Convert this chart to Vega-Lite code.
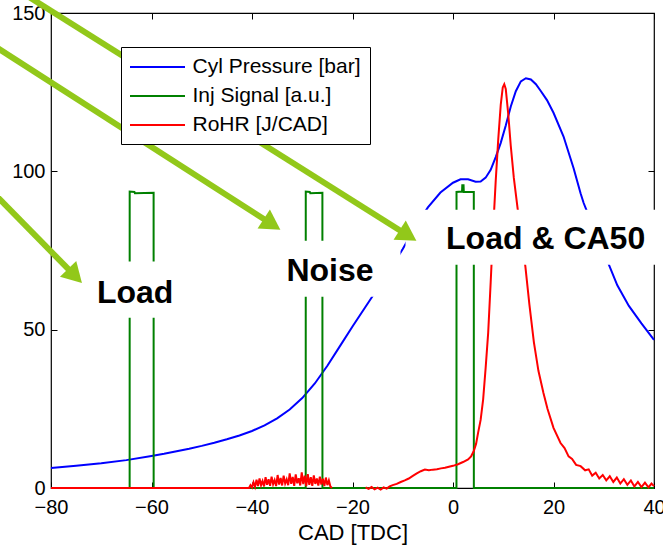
{
  "$schema": "https://vega.github.io/schema/vega-lite/v6.json",
  "width": 603,
  "height": 475,
  "autosize": {"type": "none"},
  "padding": {"left": 51, "top": 13, "right": 9, "bottom": 59},
  "background": "white",
  "config": {
    "view": {"stroke": "black", "strokeWidth": 1.2},
    "font": "Liberation Sans",
    "axis": {"labelFont": "Liberation Sans", "labelFontSize": 20, "labelColor": "black", "tickColor": "black", "tickWidth": 1, "domain": false, "grid": false, "tickSize": -6, "titleFont": "Liberation Sans", "titleFontSize": 22, "titleFontWeight": "normal", "titleColor": "black", "labelFlush": false, "labelOverlap": false}
  },
  "datasets": {
    "curves": [
      {"cad": -80, "val": 6.3, "series": "Cyl Pressure [bar]", "part": "a"},
      {"cad": -75, "val": 7.0, "series": "Cyl Pressure [bar]", "part": "a"},
      {"cad": -70, "val": 7.8, "series": "Cyl Pressure [bar]", "part": "a"},
      {"cad": -65, "val": 8.8, "series": "Cyl Pressure [bar]", "part": "a"},
      {"cad": -60, "val": 10.1, "series": "Cyl Pressure [bar]", "part": "a"},
      {"cad": -57.5, "val": 10.8, "series": "Cyl Pressure [bar]", "part": "a"},
      {"cad": -55, "val": 11.6, "series": "Cyl Pressure [bar]", "part": "a"},
      {"cad": -52.5, "val": 12.4, "series": "Cyl Pressure [bar]", "part": "a"},
      {"cad": -50, "val": 13.3, "series": "Cyl Pressure [bar]", "part": "a"},
      {"cad": -47.5, "val": 14.3, "series": "Cyl Pressure [bar]", "part": "a"},
      {"cad": -45, "val": 15.4, "series": "Cyl Pressure [bar]", "part": "a"},
      {"cad": -42.5, "val": 16.6, "series": "Cyl Pressure [bar]", "part": "a"},
      {"cad": -40, "val": 18.0, "series": "Cyl Pressure [bar]", "part": "a"},
      {"cad": -37.5, "val": 19.8, "series": "Cyl Pressure [bar]", "part": "a"},
      {"cad": -35, "val": 22.0, "series": "Cyl Pressure [bar]", "part": "a"},
      {"cad": -32.5, "val": 24.8, "series": "Cyl Pressure [bar]", "part": "a"},
      {"cad": -30, "val": 28.4, "series": "Cyl Pressure [bar]", "part": "a"},
      {"cad": -27.5, "val": 33.0, "series": "Cyl Pressure [bar]", "part": "a"},
      {"cad": -25, "val": 38.6, "series": "Cyl Pressure [bar]", "part": "a"},
      {"cad": -22.5, "val": 44.8, "series": "Cyl Pressure [bar]", "part": "a"},
      {"cad": -20, "val": 51.0, "series": "Cyl Pressure [bar]", "part": "a"},
      {"cad": -17.5, "val": 57.0, "series": "Cyl Pressure [bar]", "part": "a"},
      {"cad": -15, "val": 63.0, "series": "Cyl Pressure [bar]", "part": "a"},
      {"cad": -12.5, "val": 69.0, "series": "Cyl Pressure [bar]", "part": "a"},
      {"cad": -10, "val": 75.5, "series": "Cyl Pressure [bar]", "part": "a"},
      {"cad": -7.5, "val": 82.5, "series": "Cyl Pressure [bar]", "part": "a"},
      {"cad": -5, "val": 88.6, "series": "Cyl Pressure [bar]", "part": "a"},
      {"cad": -2.5, "val": 93.3, "series": "Cyl Pressure [bar]", "part": "a"},
      {"cad": 0, "val": 96.4, "series": "Cyl Pressure [bar]", "part": "a"},
      {"cad": 1.5, "val": 97.5, "series": "Cyl Pressure [bar]", "part": "a"},
      {"cad": 3, "val": 97.5, "series": "Cyl Pressure [bar]", "part": "a"},
      {"cad": 4.5, "val": 96.7, "series": "Cyl Pressure [bar]", "part": "a"},
      {"cad": 5.5, "val": 96.8, "series": "Cyl Pressure [bar]", "part": "a"},
      {"cad": 6.5, "val": 98.0, "series": "Cyl Pressure [bar]", "part": "a"},
      {"cad": 7.5, "val": 100.5, "series": "Cyl Pressure [bar]", "part": "a"},
      {"cad": 8.5, "val": 104.5, "series": "Cyl Pressure [bar]", "part": "a"},
      {"cad": 9.5, "val": 109.0, "series": "Cyl Pressure [bar]", "part": "a"},
      {"cad": 10.5, "val": 114.5, "series": "Cyl Pressure [bar]", "part": "a"},
      {"cad": 11.5, "val": 120.5, "series": "Cyl Pressure [bar]", "part": "a"},
      {"cad": 12.5, "val": 125.3, "series": "Cyl Pressure [bar]", "part": "a"},
      {"cad": 13.5, "val": 128.4, "series": "Cyl Pressure [bar]", "part": "a"},
      {"cad": 14.5, "val": 129.4, "series": "Cyl Pressure [bar]", "part": "a"},
      {"cad": 15.5, "val": 129.0, "series": "Cyl Pressure [bar]", "part": "a"},
      {"cad": 16.5, "val": 127.5, "series": "Cyl Pressure [bar]", "part": "a"},
      {"cad": 17.5, "val": 125.3, "series": "Cyl Pressure [bar]", "part": "a"},
      {"cad": 18.7, "val": 122.5, "series": "Cyl Pressure [bar]", "part": "a"},
      {"cad": 20, "val": 118.5, "series": "Cyl Pressure [bar]", "part": "a"},
      {"cad": 22, "val": 111.0, "series": "Cyl Pressure [bar]", "part": "a"},
      {"cad": 24, "val": 101.0, "series": "Cyl Pressure [bar]", "part": "a"},
      {"cad": 25.4, "val": 93.0, "series": "Cyl Pressure [bar]", "part": "a"},
      {"cad": 26, "val": 90.0, "series": "Cyl Pressure [bar]", "part": "a"},
      {"cad": 27, "val": 86.0, "series": "Cyl Pressure [bar]", "part": "a"},
      {"cad": 30, "val": 74.5, "series": "Cyl Pressure [bar]", "part": "a"},
      {"cad": 32.7, "val": 64.0, "series": "Cyl Pressure [bar]", "part": "a"},
      {"cad": 35, "val": 57.5, "series": "Cyl Pressure [bar]", "part": "a"},
      {"cad": 37.5, "val": 52.0, "series": "Cyl Pressure [bar]", "part": "a"},
      {"cad": 40, "val": 46.8, "series": "Cyl Pressure [bar]", "part": "a"},

      {"cad": -80, "val": 0, "series": "Inj Signal [a.u.]", "part": "a"},
      {"cad": -64.35, "val": 0, "series": "Inj Signal [a.u.]", "part": "a"},
      {"cad": -64.34, "val": 93.6, "series": "Inj Signal [a.u.]", "part": "a"},
      {"cad": -63.4, "val": 93.5, "series": "Inj Signal [a.u.]", "part": "a"},
      {"cad": -63.3, "val": 93.1, "series": "Inj Signal [a.u.]", "part": "a"},
      {"cad": -59.58, "val": 93.2, "series": "Inj Signal [a.u.]", "part": "a"},
      {"cad": -59.57, "val": 0, "series": "Inj Signal [a.u.]", "part": "a"},
      {"cad": -29.31, "val": 0, "series": "Inj Signal [a.u.]", "part": "a"},
      {"cad": -29.3, "val": 93.6, "series": "Inj Signal [a.u.]", "part": "a"},
      {"cad": -28.5, "val": 93.5, "series": "Inj Signal [a.u.]", "part": "a"},
      {"cad": -28.4, "val": 93.1, "series": "Inj Signal [a.u.]", "part": "a"},
      {"cad": -25.99, "val": 93.2, "series": "Inj Signal [a.u.]", "part": "a"},
      {"cad": -25.98, "val": 0, "series": "Inj Signal [a.u.]", "part": "a"},
      {"cad": 0.69, "val": 0, "series": "Inj Signal [a.u.]", "part": "a"},
      {"cad": 0.7, "val": 93.5, "series": "Inj Signal [a.u.]", "part": "a"},
      {"cad": 1.8, "val": 93.6, "series": "Inj Signal [a.u.]", "part": "a"},
      {"cad": 1.85, "val": 95.6, "series": "Inj Signal [a.u.]", "part": "a"},
      {"cad": 2.1, "val": 95.6, "series": "Inj Signal [a.u.]", "part": "a"},
      {"cad": 2.15, "val": 93.5, "series": "Inj Signal [a.u.]", "part": "a"},
      {"cad": 4.14, "val": 93.5, "series": "Inj Signal [a.u.]", "part": "a"},
      {"cad": 4.15, "val": 0, "series": "Inj Signal [a.u.]", "part": "a"},
      {"cad": 40, "val": 0, "series": "Inj Signal [a.u.]", "part": "a"},

      {"cad": -80, "val": 0, "series": "RoHR [J/CAD]", "part": "a"},
      {"cad": -40.6, "val": 0, "series": "RoHR [J/CAD]", "part": "a"},
      {"cad": -40.3, "val": 0.9, "series": "RoHR [J/CAD]", "part": "a"},
      {"cad": -40.0, "val": 0.2, "series": "RoHR [J/CAD]", "part": "a"},
      {"cad": -39.7, "val": 1.8, "series": "RoHR [J/CAD]", "part": "a"},
      {"cad": -39.4, "val": 0.4, "series": "RoHR [J/CAD]", "part": "a"},
      {"cad": -39.1, "val": 2.6, "series": "RoHR [J/CAD]", "part": "a"},
      {"cad": -38.8, "val": 0.6, "series": "RoHR [J/CAD]", "part": "a"},
      {"cad": -38.5, "val": 3.0, "series": "RoHR [J/CAD]", "part": "a"},
      {"cad": -38.2, "val": 0.9, "series": "RoHR [J/CAD]", "part": "a"},
      {"cad": -37.9, "val": 2.2, "series": "RoHR [J/CAD]", "part": "a"},
      {"cad": -37.6, "val": 0.5, "series": "RoHR [J/CAD]", "part": "a"},
      {"cad": -37.3, "val": 3.4, "series": "RoHR [J/CAD]", "part": "a"},
      {"cad": -37.0, "val": 1.0, "series": "RoHR [J/CAD]", "part": "a"},
      {"cad": -36.7, "val": 2.8, "series": "RoHR [J/CAD]", "part": "a"},
      {"cad": -36.4, "val": 0.7, "series": "RoHR [J/CAD]", "part": "a"},
      {"cad": -36.1, "val": 3.6, "series": "RoHR [J/CAD]", "part": "a"},
      {"cad": -35.8, "val": 1.2, "series": "RoHR [J/CAD]", "part": "a"},
      {"cad": -35.5, "val": 2.5, "series": "RoHR [J/CAD]", "part": "a"},
      {"cad": -35.2, "val": 0.6, "series": "RoHR [J/CAD]", "part": "a"},
      {"cad": -34.9, "val": 4.1, "series": "RoHR [J/CAD]", "part": "a"},
      {"cad": -34.6, "val": 1.1, "series": "RoHR [J/CAD]", "part": "a"},
      {"cad": -34.3, "val": 3.2, "series": "RoHR [J/CAD]", "part": "a"},
      {"cad": -34.0, "val": 0.8, "series": "RoHR [J/CAD]", "part": "a"},
      {"cad": -33.7, "val": 3.9, "series": "RoHR [J/CAD]", "part": "a"},
      {"cad": -33.4, "val": 1.4, "series": "RoHR [J/CAD]", "part": "a"},
      {"cad": -33.1, "val": 2.7, "series": "RoHR [J/CAD]", "part": "a"},
      {"cad": -32.8, "val": 0.9, "series": "RoHR [J/CAD]", "part": "a"},
      {"cad": -32.5, "val": 4.6, "series": "RoHR [J/CAD]", "part": "a"},
      {"cad": -32.2, "val": 1.3, "series": "RoHR [J/CAD]", "part": "a"},
      {"cad": -31.9, "val": 3.5, "series": "RoHR [J/CAD]", "part": "a"},
      {"cad": -31.6, "val": 0.7, "series": "RoHR [J/CAD]", "part": "a"},
      {"cad": -31.3, "val": 4.3, "series": "RoHR [J/CAD]", "part": "a"},
      {"cad": -31.0, "val": 1.5, "series": "RoHR [J/CAD]", "part": "a"},
      {"cad": -30.7, "val": 3.1, "series": "RoHR [J/CAD]", "part": "a"},
      {"cad": -30.4, "val": 0.8, "series": "RoHR [J/CAD]", "part": "a"},
      {"cad": -30.1, "val": 4.9, "series": "RoHR [J/CAD]", "part": "a"},
      {"cad": -29.8, "val": 1.2, "series": "RoHR [J/CAD]", "part": "a"},
      {"cad": -29.5, "val": 3.9, "series": "RoHR [J/CAD]", "part": "a"},
      {"cad": -29.2, "val": 0.6, "series": "RoHR [J/CAD]", "part": "a"},
      {"cad": -28.9, "val": 4.4, "series": "RoHR [J/CAD]", "part": "a"},
      {"cad": -28.6, "val": 1.0, "series": "RoHR [J/CAD]", "part": "a"},
      {"cad": -28.3, "val": 3.4, "series": "RoHR [J/CAD]", "part": "a"},
      {"cad": -28.0, "val": 0.7, "series": "RoHR [J/CAD]", "part": "a"},
      {"cad": -27.7, "val": 4.0, "series": "RoHR [J/CAD]", "part": "a"},
      {"cad": -27.4, "val": 1.3, "series": "RoHR [J/CAD]", "part": "a"},
      {"cad": -27.1, "val": 3.0, "series": "RoHR [J/CAD]", "part": "a"},
      {"cad": -26.8, "val": 0.8, "series": "RoHR [J/CAD]", "part": "a"},
      {"cad": -26.5, "val": 3.6, "series": "RoHR [J/CAD]", "part": "a"},
      {"cad": -26.2, "val": 1.1, "series": "RoHR [J/CAD]", "part": "a"},
      {"cad": -25.9, "val": 2.9, "series": "RoHR [J/CAD]", "part": "a"},
      {"cad": -25.6, "val": 0.6, "series": "RoHR [J/CAD]", "part": "a"},
      {"cad": -25.3, "val": 3.3, "series": "RoHR [J/CAD]", "part": "a"},
      {"cad": -25.0, "val": 0.9, "series": "RoHR [J/CAD]", "part": "a"},
      {"cad": -24.7, "val": 2.4, "series": "RoHR [J/CAD]", "part": "a"},
      {"cad": -24.4, "val": 0.5, "series": "RoHR [J/CAD]", "part": "a"},
      {"cad": -24.1, "val": 0, "series": "RoHR [J/CAD]", "part": "a"},

      {"cad": -17.4, "val": 0.2, "series": "RoHR [J/CAD]", "part": "b"},
      {"cad": -16.8, "val": -0.3, "series": "RoHR [J/CAD]", "part": "b"},
      {"cad": -16.2, "val": 0.3, "series": "RoHR [J/CAD]", "part": "b"},
      {"cad": -15.6, "val": -0.4, "series": "RoHR [J/CAD]", "part": "b"},
      {"cad": -15.0, "val": 0.1, "series": "RoHR [J/CAD]", "part": "b"},
      {"cad": -14.4, "val": -0.5, "series": "RoHR [J/CAD]", "part": "b"},
      {"cad": -13.8, "val": 0.2, "series": "RoHR [J/CAD]", "part": "b"},
      {"cad": -13.2, "val": -0.2, "series": "RoHR [J/CAD]", "part": "b"},
      {"cad": -12.6, "val": 0.5, "series": "RoHR [J/CAD]", "part": "b"},
      {"cad": -12.0, "val": 0.9, "series": "RoHR [J/CAD]", "part": "b"},
      {"cad": -11.2, "val": 1.3, "series": "RoHR [J/CAD]", "part": "b"},
      {"cad": -10.4, "val": 1.9, "series": "RoHR [J/CAD]", "part": "b"},
      {"cad": -9.6, "val": 2.4, "series": "RoHR [J/CAD]", "part": "b"},
      {"cad": -8.8, "val": 3.0, "series": "RoHR [J/CAD]", "part": "b"},
      {"cad": -8.0, "val": 3.8, "series": "RoHR [J/CAD]", "part": "b"},
      {"cad": -7.2, "val": 4.6, "series": "RoHR [J/CAD]", "part": "b"},
      {"cad": -6.4, "val": 5.3, "series": "RoHR [J/CAD]", "part": "b"},
      {"cad": -5.6, "val": 5.8, "series": "RoHR [J/CAD]", "part": "b"},
      {"cad": -4.8, "val": 5.6, "series": "RoHR [J/CAD]", "part": "b"},
      {"cad": -4.0, "val": 5.8, "series": "RoHR [J/CAD]", "part": "b"},
      {"cad": -3.2, "val": 5.9, "series": "RoHR [J/CAD]", "part": "b"},
      {"cad": -2.4, "val": 6.2, "series": "RoHR [J/CAD]", "part": "b"},
      {"cad": -1.6, "val": 6.4, "series": "RoHR [J/CAD]", "part": "b"},
      {"cad": -0.8, "val": 6.7, "series": "RoHR [J/CAD]", "part": "b"},
      {"cad": 0.0, "val": 7.0, "series": "RoHR [J/CAD]", "part": "b"},
      {"cad": 1.0, "val": 7.5, "series": "RoHR [J/CAD]", "part": "b"},
      {"cad": 2.0, "val": 8.2, "series": "RoHR [J/CAD]", "part": "b"},
      {"cad": 3.0, "val": 9.0, "series": "RoHR [J/CAD]", "part": "b"},
      {"cad": 3.6, "val": 10.0, "series": "RoHR [J/CAD]", "part": "b"},
      {"cad": 4.1, "val": 11.5, "series": "RoHR [J/CAD]", "part": "b"},
      {"cad": 4.6, "val": 14.0, "series": "RoHR [J/CAD]", "part": "b"},
      {"cad": 5.0, "val": 17.5, "series": "RoHR [J/CAD]", "part": "b"},
      {"cad": 5.5, "val": 21.5, "series": "RoHR [J/CAD]", "part": "b"},
      {"cad": 6.0, "val": 28.0, "series": "RoHR [J/CAD]", "part": "b"},
      {"cad": 6.5, "val": 38.0, "series": "RoHR [J/CAD]", "part": "b"},
      {"cad": 7.0, "val": 49.0, "series": "RoHR [J/CAD]", "part": "b"},
      {"cad": 7.5, "val": 65.0, "series": "RoHR [J/CAD]", "part": "b"},
      {"cad": 8.0, "val": 82.0, "series": "RoHR [J/CAD]", "part": "b"},
      {"cad": 8.5, "val": 97.0, "series": "RoHR [J/CAD]", "part": "b"},
      {"cad": 9.0, "val": 110.0, "series": "RoHR [J/CAD]", "part": "b"},
      {"cad": 9.5, "val": 121.0, "series": "RoHR [J/CAD]", "part": "b"},
      {"cad": 9.9, "val": 126.5, "series": "RoHR [J/CAD]", "part": "b"},
      {"cad": 10.2, "val": 127.5, "series": "RoHR [J/CAD]", "part": "b"},
      {"cad": 10.5, "val": 126.0, "series": "RoHR [J/CAD]", "part": "b"},
      {"cad": 11.0, "val": 118.0, "series": "RoHR [J/CAD]", "part": "b"},
      {"cad": 11.5, "val": 108.0, "series": "RoHR [J/CAD]", "part": "b"},
      {"cad": 12.1, "val": 98.0, "series": "RoHR [J/CAD]", "part": "b"},
      {"cad": 12.8, "val": 89.0, "series": "RoHR [J/CAD]", "part": "b"},
      {"cad": 13.6, "val": 79.0, "series": "RoHR [J/CAD]", "part": "b"},
      {"cad": 14.4, "val": 70.0, "series": "RoHR [J/CAD]", "part": "b"},
      {"cad": 15.2, "val": 58.0, "series": "RoHR [J/CAD]", "part": "b"},
      {"cad": 16.1, "val": 46.0, "series": "RoHR [J/CAD]", "part": "b"},
      {"cad": 17.0, "val": 37.0, "series": "RoHR [J/CAD]", "part": "b"},
      {"cad": 18.0, "val": 30.0, "series": "RoHR [J/CAD]", "part": "b"},
      {"cad": 18.8, "val": 25.0, "series": "RoHR [J/CAD]", "part": "b"},
      {"cad": 20.0, "val": 19.0, "series": "RoHR [J/CAD]", "part": "b"},
      {"cad": 21.4, "val": 14.2, "series": "RoHR [J/CAD]", "part": "b"},
      {"cad": 22.2, "val": 12.6, "series": "RoHR [J/CAD]", "part": "b"},
      {"cad": 23.0, "val": 10.0, "series": "RoHR [J/CAD]", "part": "b"},
      {"cad": 23.7, "val": 9.2, "series": "RoHR [J/CAD]", "part": "b"},
      {"cad": 24.5, "val": 7.3, "series": "RoHR [J/CAD]", "part": "b"},
      {"cad": 25.4, "val": 6.9, "series": "RoHR [J/CAD]", "part": "b"},
      {"cad": 26.3, "val": 5.6, "series": "RoHR [J/CAD]", "part": "b"},
      {"cad": 27.0, "val": 5.9, "series": "RoHR [J/CAD]", "part": "b"},
      {"cad": 27.7, "val": 3.9, "series": "RoHR [J/CAD]", "part": "b"},
      {"cad": 28.4, "val": 4.8, "series": "RoHR [J/CAD]", "part": "b"},
      {"cad": 29.1, "val": 3.0, "series": "RoHR [J/CAD]", "part": "b"},
      {"cad": 29.8, "val": 4.1, "series": "RoHR [J/CAD]", "part": "b"},
      {"cad": 30.5, "val": 2.4, "series": "RoHR [J/CAD]", "part": "b"},
      {"cad": 31.2, "val": 3.7, "series": "RoHR [J/CAD]", "part": "b"},
      {"cad": 31.9, "val": 1.9, "series": "RoHR [J/CAD]", "part": "b"},
      {"cad": 32.6, "val": 3.3, "series": "RoHR [J/CAD]", "part": "b"},
      {"cad": 33.3, "val": 1.4, "series": "RoHR [J/CAD]", "part": "b"},
      {"cad": 34.0, "val": 2.8, "series": "RoHR [J/CAD]", "part": "b"},
      {"cad": 34.7, "val": 1.0, "series": "RoHR [J/CAD]", "part": "b"},
      {"cad": 35.4, "val": 2.4, "series": "RoHR [J/CAD]", "part": "b"},
      {"cad": 36.1, "val": 0.5, "series": "RoHR [J/CAD]", "part": "b"},
      {"cad": 36.8, "val": 1.9, "series": "RoHR [J/CAD]", "part": "b"},
      {"cad": 37.5, "val": 0.3, "series": "RoHR [J/CAD]", "part": "b"},
      {"cad": 38.2, "val": 1.7, "series": "RoHR [J/CAD]", "part": "b"},
      {"cad": 38.9, "val": 0.2, "series": "RoHR [J/CAD]", "part": "b"},
      {"cad": 39.5, "val": 1.4, "series": "RoHR [J/CAD]", "part": "b"},
      {"cad": 40.0, "val": 0.6, "series": "RoHR [J/CAD]", "part": "b"}
    ],
    "boxes": [
      {"x1": -73.2, "x2": -53.3, "y1": 53.8, "y2": 71.5},
      {"x1": -35.9, "x2": -10.45, "y1": 60.4, "y2": 78.1},
      {"x1": -9.45, "x2": 41.93, "y1": 70.5, "y2": 87.9}
    ],
    "arrows": [
      {"xs": -91.09, "ys": 92.6, "xe": -75.22, "ye": 66.97, "angle": 135.6},
      {"xs": -91.09, "ys": 139.4, "xe": -36.01, "ye": 83.27, "angle": 122.7},
      {"xs": -85.12, "ys": 155.8, "xe": -8.95, "ye": 79.76, "angle": 122.2}
    ],
    "labels": [
      {"text": "Load", "x": -63.25, "y": 58.5},
      {"text": "Noise", "x": -24.48, "y": 65.5},
      {"text": "Load & CA50", "x": 18.43, "y": 75.5}
    ]
  },
  "resolve": {"axis": {"x": "independent", "y": "independent"}},
  "layer": [
    {
      "data": {"name": "curves"},
      "mark": {"type": "line", "strokeWidth": 2},
      "encoding": {
        "x": {"field": "cad", "type": "quantitative", "scale": {"domain": [-80, 40], "nice": false, "zero": false},
              "axis": {"orient": "bottom", "values": [-80, -60, -40, -20, 0, 20, 40], "title": "CAD [TDC]", "labelPadding": 15, "titlePadding": 5}},
        "y": {"field": "val", "type": "quantitative", "scale": {"domain": [0, 150], "nice": false, "zero": false},
              "axis": {"orient": "left", "values": [0, 50, 100, 150], "title": null, "labelPadding": 12}},
        "color": {"field": "series", "type": "nominal",
                  "scale": {"domain": ["Cyl Pressure [bar]", "Inj Signal [a.u.]", "RoHR [J/CAD]"], "range": ["#0000ff", "#008000", "#ff0000"]},
                  "legend": {"title": null, "orient": "none", "legendX": 70, "legendY": 34, "symbolType": "M-2.75,0H2.75", "symbolSize": 400, "symbolStrokeWidth": 2, "symbolOffset": 16.5, "labelOffset": 24, "labelFontSize": 21, "labelFont": "Liberation Sans", "labelColor": "black", "labelLimit": 400, "padding": 9, "strokeColor": "black", "fillColor": "white", "rowPadding": 8}},
        "detail": {"field": "part"}
      }
    },
    {
      "data": {"name": "boxes"},
      "mark": {"type": "rect", "fill": "white", "clip": false},
      "encoding": {
        "x": {"field": "x1", "type": "quantitative", "scale": {"domain": [-80, 40], "nice": false, "zero": false},
              "axis": {"orient": "top", "values": [-80, -60, -40, -20, 0, 20, 40], "labels": false, "title": null}},
        "x2": {"field": "x2"},
        "y": {"field": "y1", "type": "quantitative", "scale": {"domain": [0, 150], "nice": false, "zero": false},
              "axis": {"orient": "right", "values": [0, 50, 100, 150], "labels": false, "title": null}},
        "y2": {"field": "y2"}
      }
    },
    {
      "data": {"name": "arrows"},
      "mark": {"type": "rule", "color": "#92c81a", "strokeWidth": 6, "clip": false},
      "encoding": {
        "x": {"field": "xs", "type": "quantitative", "scale": {"domain": [-80, 40], "nice": false, "zero": false}, "axis": null},
        "y": {"field": "ys", "type": "quantitative", "scale": {"domain": [0, 150], "nice": false, "zero": false}, "axis": null},
        "x2": {"field": "xe"},
        "y2": {"field": "ye"}
      }
    },
    {
      "data": {"name": "arrows"},
      "mark": {"type": "point", "shape": "triangle-up", "filled": true, "size": 520, "color": "#92c81a", "opacity": 1, "strokeWidth": 0, "clip": false},
      "encoding": {
        "x": {"field": "xe", "type": "quantitative", "scale": {"domain": [-80, 40], "nice": false, "zero": false}, "axis": null},
        "y": {"field": "ye", "type": "quantitative", "scale": {"domain": [0, 150], "nice": false, "zero": false}, "axis": null},
        "angle": {"field": "angle", "type": "quantitative", "scale": null}
      }
    },
    {
      "data": {"name": "labels"},
      "mark": {"type": "text", "font": "Liberation Sans", "fontWeight": "bold", "fontSize": 32, "color": "black", "align": "center", "baseline": "alphabetic", "clip": false},
      "encoding": {
        "x": {"field": "x", "type": "quantitative", "scale": {"domain": [-80, 40], "nice": false, "zero": false}, "axis": null},
        "y": {"field": "y", "type": "quantitative", "scale": {"domain": [0, 150], "nice": false, "zero": false}, "axis": null},
        "text": {"field": "text"}
      }
    }
  ]
}
